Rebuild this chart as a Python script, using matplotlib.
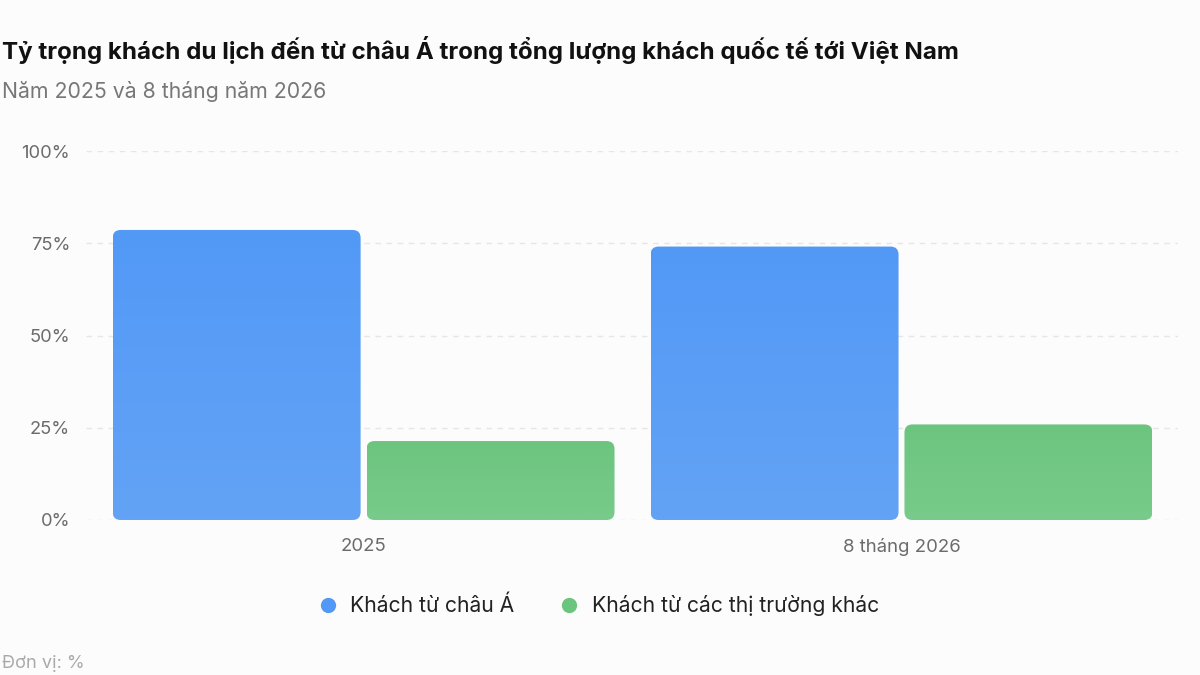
import matplotlib
matplotlib.use("Agg")
import matplotlib.pyplot as plt
import numpy as np
from matplotlib.patches import FancyBboxPatch
from matplotlib.lines import Line2D

plt.rcParams['font.family'] = ['Inter', 'DejaVu Sans']

categories = ['2025', '8 tháng 2026']
asia_share = [78.6, 74.1]
other_share = [21.4, 25.9]
series_names = ['Khách từ châu Á', 'Khách từ các thị trường khác']
yticks = [0, 25, 50, 75, 100]
ytick_labels = ['0%', '25%', '50%', '75%', '100%']

title = 'Tỷ trọng khách du lịch đến từ châu Á trong tổng lượng khách quốc tế tới Việt Nam'
subtitle = 'Năm 2025 và 8 tháng năm 2026'
note = 'Đơn vị: %'

bg = '#fcfcfc'
blue_top, blue_bot = '#5299f7', '#63a3f5'
green_top, green_bot = '#6cc57f', '#78cb8a'

W, H = 1200, 675
fig = plt.figure(figsize=(12, 6.75), dpi=100, facecolor=bg)
ax_l, ax_r, ax_b, ax_t = 86, 1178, 520, 151
ax = fig.add_axes([ax_l / W, (H - ax_b) / H, (ax_r - ax_l) / W, (ax_b - ax_t) / H])
ax.set_facecolor(bg)

xlim = (-0.516, 1.514)
ax.set_xlim(*xlim)
ax.set_ylim(0, 100)

x = np.arange(len(categories))
bw = 0.461
gap = 0.0055
b1 = ax.bar(x - bw / 2 - gap, asia_share, bw, color='none')
b2 = ax.bar(x + bw / 2 + gap, other_share, bw, color='none')

# pixel scale for rounded corners
px_x = (xlim[1] - xlim[0]) / (ax_r - ax_l)
px_y = 100 / (ax_b - ax_t)
radius = 8 * px_x
aspect = px_y / px_x


def gradient_bar(rect, ctop, cbot):
    x0, y0 = rect.get_x(), rect.get_y()
    w, h = rect.get_width(), rect.get_height()
    patch = FancyBboxPatch((x0, y0), w, h,
                           boxstyle=f"round,pad=0,rounding_size={radius}",
                           mutation_aspect=aspect, facecolor='none',
                           edgecolor='none')
    ax.add_patch(patch)
    c1 = np.array(matplotlib.colors.to_rgb(ctop))
    c2 = np.array(matplotlib.colors.to_rgb(cbot))
    t = np.linspace(0, 1, 64)[:, None]
    img = (c1 * (1 - t) + c2 * t)[:, None, :]
    im = ax.imshow(img, extent=(x0, x0 + w, y0, y0 + h), origin='upper',
                   aspect='auto', zorder=2, interpolation='bilinear')
    im.set_clip_path(patch)
    rect.remove()


for r in b1:
    gradient_bar(r, blue_top, blue_bot)
for r in b2:
    gradient_bar(r, green_top, green_bot)

ax.set_xlim(*xlim)
ax.set_ylim(0, 100)

ax.set_yticks(yticks)
ax.set_yticklabels(ytick_labels)
ax.set_xticks(x)
ax.set_xticklabels(categories)
ax.tick_params(axis='y', length=0, pad=11.5, labelsize=13.2, labelcolor='#6b6b6b')
ax.tick_params(axis='x', length=0, pad=13, labelsize=13.4, labelcolor='#6b6b6b')
for s in ax.spines.values():
    s.set_visible(False)
ax.grid(axis='y', color='#e6e6e6', linestyle=(0, (4, 4)), linewidth=1)
ax.set_axisbelow(True)

fig.text(2 / W, 1 - 50 / H, title, fontsize=17.4, fontweight='bold',
         color='#111111', va='center', ha='left')
fig.text(2 / W, 1 - 91 / H, subtitle, fontsize=15.3, color='#777777',
         va='center', ha='left')
fig.text(2 / W, 1 - 663 / H, note, fontsize=13.1, color='#aaaaaa',
         va='center', ha='left')

handles = [Line2D([], [], marker='o', linestyle='none', markersize=11,
                  markerfacecolor=c, markeredgecolor='none')
           for c in (blue_top, green_top)]
fig.legend(handles, series_names, loc='center',
           bbox_to_anchor=(0.5 - 7 / W, 1 - 606 / H),
           ncol=2, frameon=False, fontsize=15.2, handletextpad=0.05,
           columnspacing=1.6, labelcolor='#222222')

fig.savefig('out.png', dpi=100, facecolor=bg)
